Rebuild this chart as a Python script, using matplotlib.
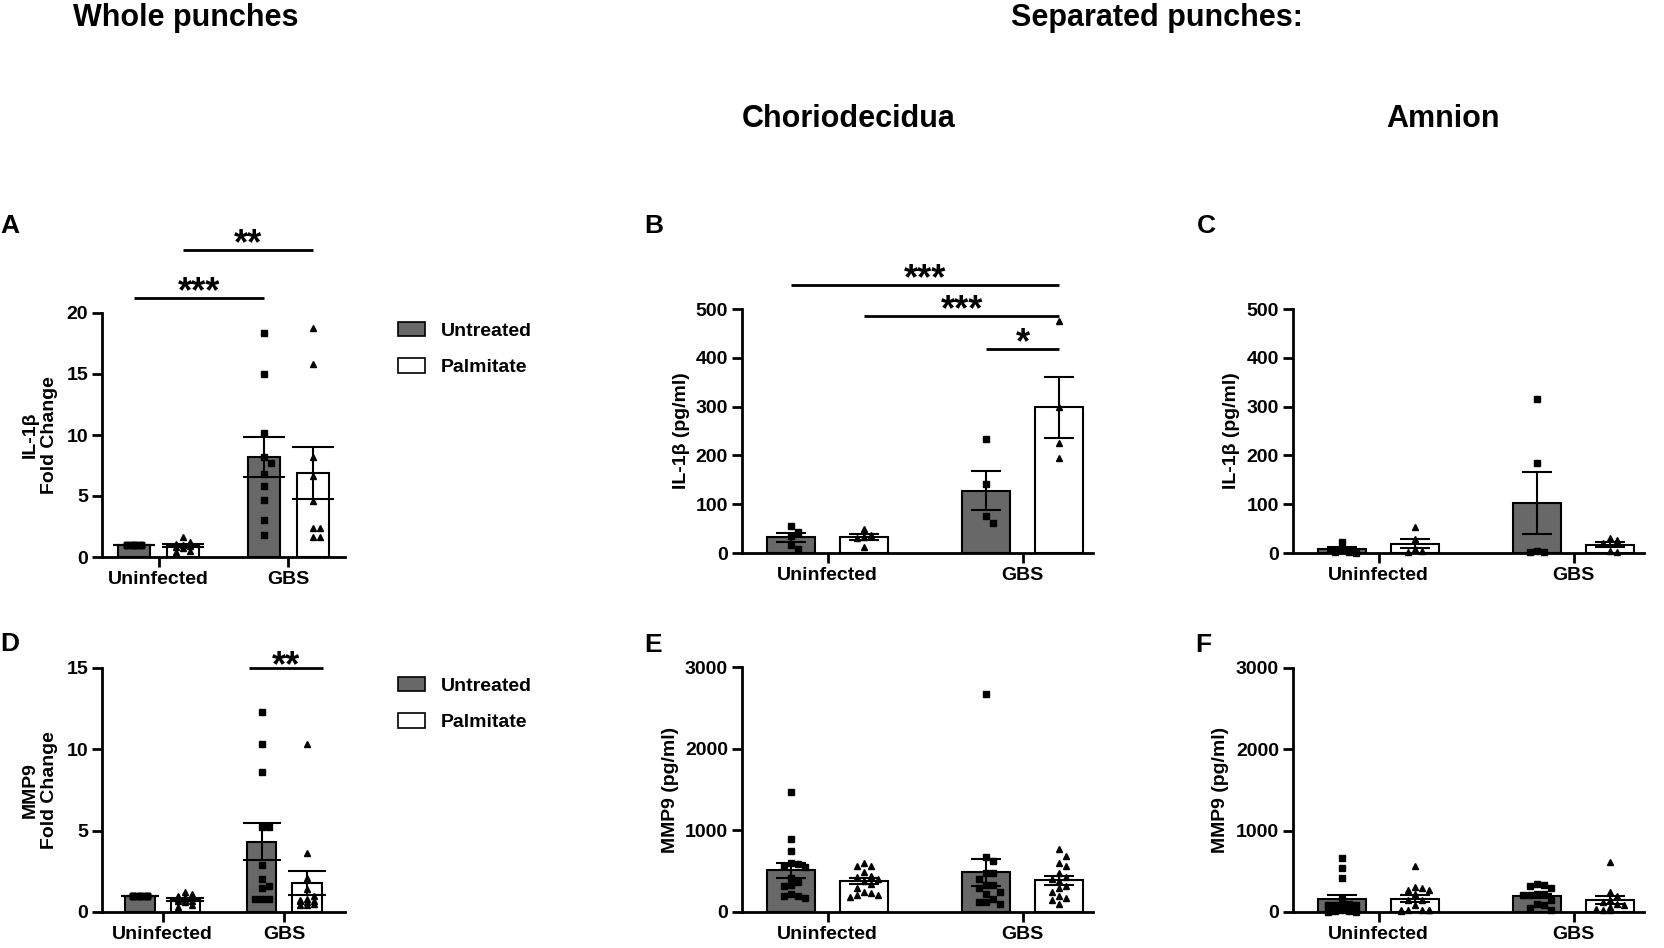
import matplotlib
matplotlib.use("Agg")
import matplotlib.pyplot as plt
import matplotlib.transforms as mtransforms
from matplotlib.patches import Patch
import numpy as np

plt.rcParams['font.family'] = ['Liberation Sans', 'DejaVu Sans']
plt.rcParams['font.weight'] = 'bold'
plt.rcParams['axes.labelweight'] = 'bold'

# ---- data (individual samples) ----
groups = ["Uninfected", "GBS"]
treatments = ["Untreated", "Palmitate"]

# A: IL-1b fold change, whole punches
A_unt = [[1.0, 1.0, 1.0, 1.0, 1.0, 1.0, 1.0, 1.0, 1.0, 1.0],
         [18.4, 15.0, 10.2, 8.2, 7.7, 6.8, 5.8, 4.7, 3.0, 1.8]]
A_pal = [[1.6, 1.2, 1.1, 1.0, 0.9, 0.8, 0.7, 0.5, 0.4],
         [18.8, 15.8, 8.2, 6.6, 4.6, 2.4, 2.4, 1.6, 1.6]]
# B: IL-1b pg/ml, choriodecidua
B_unt = [[56, 43, 35, 17, 8], [233, 142, 75, 62]]
B_pal = [[50, 37, 32, 30, 13], [475, 300, 225, 195]]
# C: IL-1b pg/ml, amnion
C_unt = [[23, 8, 3, 2, 1], [316, 185, 5, 3, 2]]
C_pal = [[53, 28, 8, 5, 2], [30, 27, 20, 5, 3]]
# D: MMP9 fold change, whole punches
D_unt = [[1.0, 1.0, 1.0, 1.0, 1.0, 1.0, 1.0, 1.0, 1.0, 1.0, 1.0, 1.0],
         [12.3, 10.3, 8.6, 5.2, 5.2, 2.9, 2.0, 1.6, 1.5, 0.8, 0.8, 0.8]]
D_pal = [[1.2, 1.1, 1.0, 0.9, 0.85, 0.8, 0.75, 0.7, 0.7, 0.6, 0.4, 0.3],
         [10.3, 3.6, 2.1, 1.4, 1.0, 0.8, 0.75, 0.7, 0.7, 0.6, 0.5, 0.4, 0.4]]
# E: MMP9 pg/ml, choriodecidua
E_unt = [[1474, 896, 745, 606, 585, 561, 553, 422, 368, 327, 315, 225, 192, 192, 176],
         [2668, 673, 624, 477, 477, 404, 330, 330, 294, 250, 225, 160, 123, 123, 100]]
E_pal = [[602, 569, 569, 491, 442, 430, 409, 380, 348, 300, 246, 233, 205, 205, 184],
         [770, 690, 600, 560, 480, 430, 400, 380, 320, 290, 250, 200, 170, 150, 100]]
# F: MMP9 pg/ml, amnion
F_unt = [[658, 543, 423, 164, 100, 90, 82, 80, 75, 70, 20, 15, 10, 5, 0],
         [340, 330, 320, 296, 220, 218, 215, 210, 144, 100, 82, 50, 29]]
F_pal = [[571, 308, 300, 270, 267, 218, 144, 144, 82, 30, 29, 28, 27, 20, 15],
         [610, 250, 200, 150, 120, 100, 80, 60, 40, 30, 20]]

GRAY = '#686868'
W, H = 1664, 948
fig = plt.figure(figsize=(W / 100, H / 100), dpi=100)

off = 0.187
bw = 0.245


def add_ax(left, right, top, bottom):
    return fig.add_axes([left / W, 1 - bottom / H, (right - left) / W, (bottom - top) / H])


def swarm_x(ax, xc, vals, half_w_px, s=7.0):
    # simple beeswarm in pixel space, offsets limited to bar width
    ppx = ax.bbox.width / (ax.get_xlim()[1] - ax.get_xlim()[0])
    ppy = ax.bbox.height / (ax.get_ylim()[1] - ax.get_ylim()[0])
    cands = [0.0]
    k = 1
    while k * s <= half_w_px:
        cands += [k * s, -k * s]
        k += 1
    order = np.argsort(vals)[::-1]
    xs = np.zeros(len(vals))
    placed = []
    for n, i in enumerate(order):
        y = vals[i] * ppy
        pick = None
        for c in cands:
            if all((c - px) ** 2 + (y - py) ** 2 >= s ** 2 for px, py in placed):
                pick = c
                break
        if pick is None:
            pick = cands[n % len(cands)]
        placed.append((pick, y))
        xs[i] = xc + pick / ppx
    return xs


def panel(ax, unt, pal, xlim, ylim, yticks, ylabel, ylab_px, capsize):
    ax.set_xlim(xlim)
    ax.set_ylim(ylim)
    for i in range(2):
        for vals, dx, fc, mk in [(unt[i], -off, GRAY, 's'), (pal[i], off, 'white', '^')]:
            vals = np.asarray(vals, float)
            m = vals.mean()
            sem = vals.std(ddof=1) / np.sqrt(len(vals))
            ax.bar(i + dx, m, bw, color=fc, edgecolor='black', linewidth=1.5, zorder=2)
            half = ax.bbox.width / (xlim[1] - xlim[0]) * bw * 0.42
            xs = swarm_x(ax, i + dx, vals, half)
            ax.plot(xs, vals, ls='none', marker=mk, ms=4.5, color='black', zorder=3, clip_on=False)
            ax.errorbar(i + dx, m, yerr=sem, fmt='none', ecolor='black', elinewidth=1.5,
                        capsize=capsize, capthick=1.5, zorder=4)
    ax.spines[['top', 'right']].set_visible(False)
    ax.spines[['left', 'bottom']].set_linewidth(2)
    ax.set_yticks(yticks)
    ax.set_xticks([0, 1])
    ax.set_xticklabels(groups)
    ax.tick_params(width=2, length=7, labelsize=14, pad=3)
    ax.set_ylabel(ylabel, fontsize=14)
    tr = mtransforms.blended_transform_factory(fig.transFigure, ax.transAxes)
    ax.yaxis.set_label_coords(ylab_px / W, 0.5, transform=tr)


def sig(ax, x1, x2, y, txt, dy=-3):
    ax.plot([x1, x2], [y, y], color='black', lw=2, clip_on=False, solid_capstyle='butt')
    ax.annotate(txt, xy=((x1 + x2) / 2, y), xytext=(0, dy), textcoords='offset points',
                ha='center', va='baseline', fontsize=26, fontweight='bold', annotation_clip=False)


axA = add_ax(102, 345, 313, 557)
axB = add_ax(742, 1093, 309, 553)
axC = add_ax(1293, 1644, 309, 553)
axD = add_ax(102, 345, 668, 912)
axE = add_ax(742, 1093, 667, 912)
axF = add_ax(1293, 1644, 668, 912)

panel(axA, A_unt, A_pal, (-0.435, 1.435), (0, 20), [0, 5, 10, 15, 20], "IL-1β\nFold Change", 58, 15)
panel(axB, B_unt, B_pal, (-0.438, 1.36), (0, 500), [0, 100, 200, 300, 400, 500], "IL-1β (pg/ml)", 690, 11)
panel(axC, C_unt, C_pal, (-0.438, 1.36), (0, 500), [0, 100, 200, 300, 400, 500], "IL-1β (pg/ml)", 1240, 11)
panel(axD, D_unt, D_pal, (-0.5, 1.5), (0, 15), [0, 5, 10, 15], "MMP9\nFold Change", 58, 14)
panel(axE, E_unt, E_pal, (-0.438, 1.36), (0, 3000), [0, 1000, 2000, 3000], "MMP9 (pg/ml)", 679, 11)
panel(axF, F_unt, F_pal, (-0.438, 1.36), (0, 3000), [0, 1000, 2000, 3000], "MMP9 (pg/ml)", 1229, 11)

# significance bars
sig(axA, -0.19, 0.815, 21.2, "***")
sig(axA, 0.185, 1.185, 25.2, "**")
sig(axB, -off, 1 + off, 550, "***")
sig(axB, off, 1 + off, 485, "***")
sig(axB, 1 - off, 1 + off, 419, "*")
sig(axD, 0.71, 1.32, 15.0, "**", dy=-6)

# legends
handles = [Patch(facecolor=GRAY, edgecolor='black', linewidth=1.2),
           Patch(facecolor='white', edgecolor='black', linewidth=1.2)]
for ytop in (322, 677):
    fig.legend(handles, treatments, loc='upper left', bbox_to_anchor=(398 / W, 1 - ytop / H),
               frameon=False, prop={'size': 14, 'weight': 'bold'}, handlelength=1.4,
               handleheight=0.75, handletextpad=0.8, labelspacing=0.95, borderpad=0,
               borderaxespad=0)

# panel letters
for letter, px, py in [("A", 10, 226), ("B", 654, 226), ("C", 1206, 226),
                       ("D", 10, 644), ("E", 653, 645), ("F", 1203, 645)]:
    fig.text(px / W, 1 - py / H, letter, ha='center', va='center', fontsize=19, fontweight='bold')

# column headings
for txt, px, py in [("Whole punches", 186, 18), ("Separated punches:", 1157, 18),
                    ("Choriodecidua", 849, 119), ("Amnion", 1443, 119)]:
    fig.text(px / W, 1 - py / H, txt, ha='center', va='center', fontsize=22, fontweight='bold')

fig.savefig("out.png", dpi=100)
